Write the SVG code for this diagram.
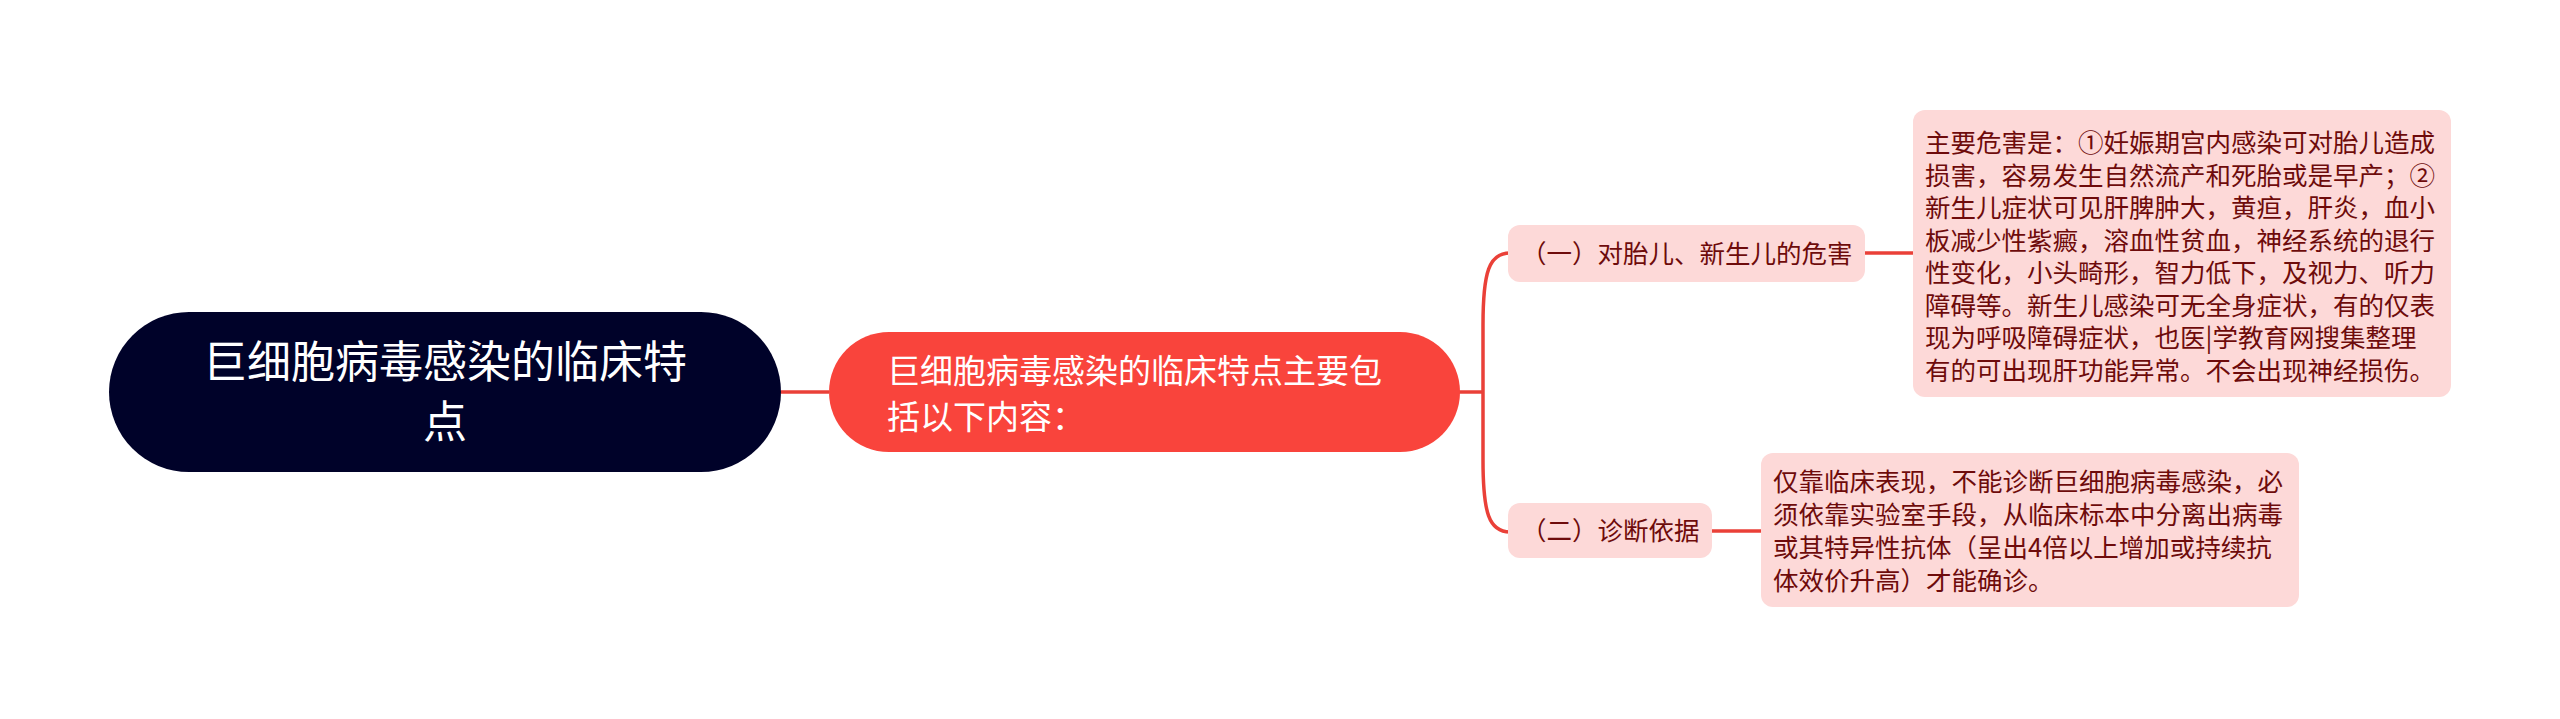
<svg xmlns="http://www.w3.org/2000/svg" width="2560" height="719" viewBox="0 0 2560 719">
<style>
text{font-family:"Noto Sans CJK SC","Noto Sans",sans-serif;}
.conn{fill:none;stroke:#ea4038;stroke-width:3.5;}
.root{fill:#000229;}
.center{fill:#f9443c;}
.pink{fill:#fdd9d8;}
.wt{fill:#ffffff;}
.dt{fill:#6e0b0b;font-size:25.5px;}
</style>
<rect width="2560" height="719" fill="#ffffff"/>
<g id="connectors">
<path class="conn" d="M781 392 L829 392"/>
<path class="conn" d="M1458 392 L1483 392"/>
<path class="conn" d="M1483 392 L1483 325 C1483 272 1489 253 1510 253"/>
<path class="conn" d="M1483 392 L1483 460 C1483 513 1489 532 1510 532"/>
<path class="conn" d="M1864 253 L1915 253"/>
<path class="conn" d="M1710 531 L1763 531"/>
</g>
<g id="root">
<rect class="root" x="109" y="312" width="672" height="160" rx="80"/>
<text class="wt" x="445" y="378" font-size="44" text-anchor="middle">巨细胞病毒感染的临床特</text>
<text class="wt" x="445" y="438" font-size="44" text-anchor="middle">点</text>
</g>
<g id="center">
<rect class="center" x="829" y="332" width="631" height="120" rx="60"/>
<text class="wt" x="887" y="383" font-size="33">巨细胞病毒感染的临床特点主要包</text>
<text class="wt" x="887" y="429" font-size="33">括以下内容：</text>
</g>
<g id="branch1">
<rect class="pink" x="1508" y="225" width="357" height="57" rx="12"/>
<text class="dt" x="1521" y="263">（一）对胎儿、新生儿的危害</text>
</g>
<g id="branch2">
<rect class="pink" x="1508" y="503" width="204" height="55" rx="12"/>
<text class="dt" x="1521" y="540">（二）诊断依据</text>
</g>
<g id="leaf1">
<rect class="pink" x="1913" y="110" width="538" height="287" rx="12"/>
<text class="dt" x="1925" y="152">主要危害是：①妊娠期宫内感染可对胎儿造成</text>
<text class="dt" x="1925" y="184.5">损害，容易发生自然流产和死胎或是早产；②</text>
<text class="dt" x="1925" y="217">新生儿症状可见肝脾肿大，黄疸，肝炎，血小</text>
<text class="dt" x="1925" y="249.5">板减少性紫癜，溶血性贫血，神经系统的退行</text>
<text class="dt" x="1925" y="282">性变化，小头畸形，智力低下，及视力、听力</text>
<text class="dt" x="1925" y="314.5">障碍等。新生儿感染可无全身症状，有的仅表</text>
<text class="dt" x="1925" y="347">现为呼吸障碍症状，也医|学教育网搜集整理</text>
<text class="dt" x="1925" y="379.5">有的可出现肝功能异常。不会出现神经损伤。</text>
</g>
<g id="leaf2">
<rect class="pink" x="1761" y="453" width="538" height="154" rx="12"/>
<text class="dt" x="1773" y="491">仅靠临床表现，不能诊断巨细胞病毒感染，必</text>
<text class="dt" x="1773" y="524">须依靠实验室手段，从临床标本中分离出病毒</text>
<text class="dt" x="1773" y="557">或其特异性抗体（呈出4倍以上增加或持续抗</text>
<text class="dt" x="1773" y="590">体效价升高）才能确诊。</text>
</g>
</svg>
